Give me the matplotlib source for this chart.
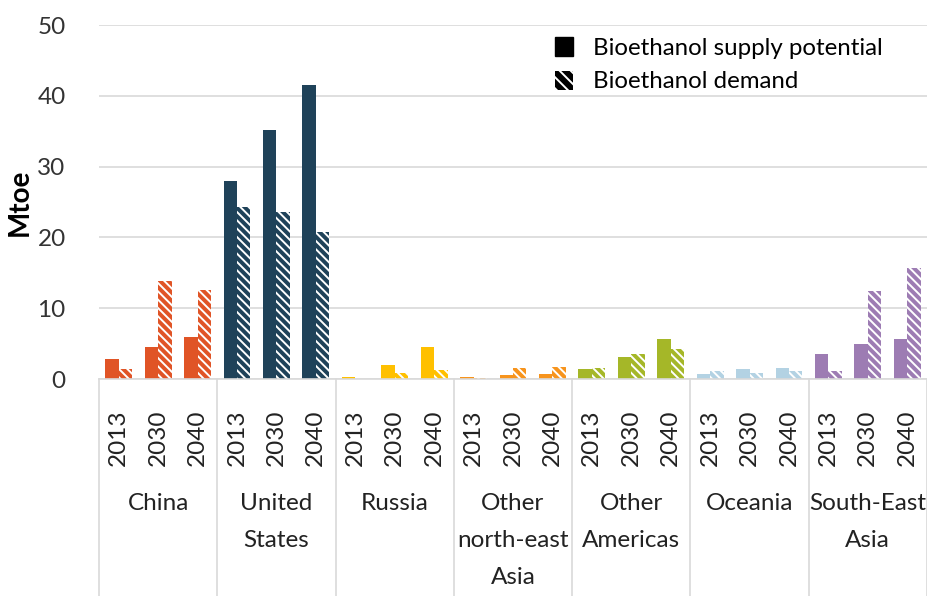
import matplotlib
matplotlib.use("Agg")
import matplotlib.pyplot as plt
import numpy as np
from matplotlib.patches import Patch
from matplotlib.lines import Line2D

regions = ["China", "United\nStates", "Russia", "Other\nnorth-east\nAsia",
           "Other\nAmericas", "Oceania", "South-East\nAsia"]
years = ["2013", "2030", "2040"]
colors = ["#E05426", "#1F4259", "#FFC000", "#F7941D", "#A5B728", "#B3D2E3", "#9D7CB3"]

# Mtoe, per region: 2013, 2030, 2040
supply = [
    [2.8, 4.5, 6.0],
    [27.9, 35.1, 41.5],
    [0.25, 2.0, 4.5],
    [0.25, 0.5, 0.7],
    [1.4, 3.1, 5.6],
    [0.7, 1.4, 1.5],
    [3.6, 4.9, 5.6],
]
demand = [
    [1.4, 13.8, 12.6],
    [24.3, 23.6, 20.7],
    [0.0, 0.9, 1.3],
    [0.2, 1.5, 1.7],
    [1.5, 3.6, 4.3],
    [1.1, 0.9, 1.1],
    [1.1, 12.4, 15.7],
]

plt.rcParams['font.family'] = ['Lato', 'DejaVu Sans']
plt.rcParams['hatch.linewidth'] = 1.4

fig = plt.figure(figsize=(9.27, 5.96), dpi=100)
ax = fig.add_axes([99/927, 1 - 379/596, 1 - 99/927, (379 - 25)/596])

w = 0.34
ticks = []
ticklabels = []
for g in range(len(regions)):
    for k in range(len(years)):
        c = g * 3 + k + 0.5
        ticks.append(c)
        ticklabels.append(years[k])
        ax.bar(c - w/2, supply[g][k], width=w, color=colors[g], linewidth=0)
        ax.bar(c + w/2, demand[g][k], width=w, facecolor=colors[g],
               edgecolor="white", hatch="\\\\\\\\", linewidth=0)

ax.set_xlim(0, 21)
ax.set_ylim(0, 50)
ax.set_yticks([0, 10, 20, 30, 40, 50])
ax.tick_params(axis='y', length=0, labelsize=17.5, colors="#333333", pad=24)
ax.tick_params(axis='x', length=0, pad=22)
ax.set_xticks(ticks)
ax.set_xticklabels(ticklabels, rotation=90, fontsize=17.5, color="#222222")
ax.grid(axis='y', color="#D9D9D9", linewidth=1.2)
ax.set_axisbelow(True)
for s in ["top", "right", "left"]:
    ax.spines[s].set_visible(False)
ax.spines["bottom"].set_color("#D9D9D9")
ax.spines["bottom"].set_linewidth(1.2)

fig.text(20/927, 1 - 202/596, "Mtoe", rotation=90, fontsize=20, fontweight="bold",
         ha="center", va="center")

# group separators and names
for g in range(len(regions) + 1):
    ax.add_line(Line2D([g * 3, g * 3], [0, -0.62], transform=ax.get_xaxis_transform(),
                       color="#D9D9D9", linewidth=1.2, clip_on=False))
for g, name in enumerate(regions):
    ax.text(g * 3 + 1.5, -0.322, name, transform=ax.get_xaxis_transform(),
            ha="center", va="top", fontsize=17.5, color="#222222", linespacing=1.95)

handles = [Patch(facecolor="black", edgecolor="black"),
           Patch(facecolor="black", edgecolor="white", hatch="\\\\\\", linewidth=0)]
fig.legend(handles, ["Bioethanol supply potential", "Bioethanol demand"],
           loc="upper left", bbox_to_anchor=(533/927, 1 - 15/596), frameon=False,
           fontsize=17.3, handlelength=0.75, handleheight=0.85, handletextpad=0.85,
           labelspacing=0.5)

fig.savefig("out.png", dpi=100)
